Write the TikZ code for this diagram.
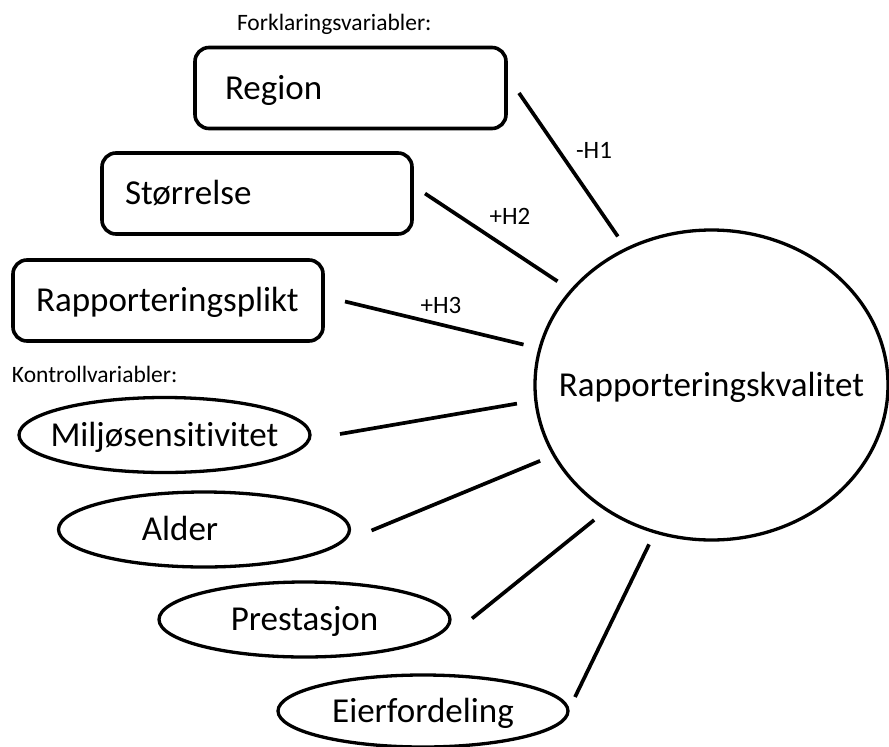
\documentclass[tikz,border=0pt]{standalone}
\usepackage{fontspec}
\setmainfont{Carlito}[Ligatures=NoCommon]
\usetikzlibrary{shapes.geometric,positioning}

\begin{document}
\begin{tikzpicture}[x=1pt,y=-1pt
    , every node/.style={outer sep=0pt}
    , big/.style={font=\fontsize{35}{40}\selectfont,text height=22.5pt,text depth=0pt}
    , expl/.style={big,draw,line width=3.6pt,rounded corners=14pt,minimum width=310pt,minimum height=81pt,text width=264pt,inner xsep=23pt,align=left}
    , ctrl/.style={big,draw,ellipse,line width=3.3pt,minimum width=291pt,minimum height=75pt,inner xsep=-30pt}
    , head/.style={font=\fontsize{23.5}{28}\selectfont,inner sep=0pt}
    , hyp/.style={font=\fontsize{25}{28}\selectfont,inner sep=0pt}
    , link/.style={line width=3.7pt}
]
    \useasboundingbox (0,0) rectangle (889,747);

    % Headings
    \node[head,anchor=base west] (forkl) at (237,30) {Forklaringsvariabler:};
    \node[head,anchor=base west] (kontr) at (12,382) {Kontrollvariabler:};

    % Explanatory variables
    \node[expl,text width=251pt,inner xsep=30pt] (region) at (350.5,88) {Region};
    \node[expl] (storrelse) at (257,193.5) {Størrelse};
    \node[expl] (plikt) at (168,300.5) {Rapporteringsplikt};

    % Reporting quality
    \node[big,draw,ellipse,line width=3.3pt,minimum width=353pt,minimum height=310pt,inner xsep=-40pt] (kval) at (711.5,385) {Rapporteringskvalitet};

    % Control variables
    \node[ctrl] (miljo) at (164.5,435) {Miljøsensitivitet};
    \node[ctrl,label={[big,xshift=-24pt]center:Alder}] (alder) at (204,529.5) {};
    \node[ctrl] (prest) at (304.5,619.5) {Prestasjon};
    \node[ctrl,minimum width=290pt,minimum height=72pt] (eier) at (423,711) {Eierfordeling};

    % Hypotheses
    \draw[link,shorten >=15.4pt] ([shift={(13pt,-5pt)}]region.east) -- (kval.122);
    \draw[link,shorten >=16.8pt] ([shift={(13pt,0pt)}]storrelse.east) -- (kval.146);
    \draw[link,shorten >=16.9pt] ([shift={(22pt,-1pt)}]plikt.east) -- (kval.168);
    \node[hyp] (h1) at (594,150) {-H1};
    \node[hyp] (h2) at (510,216) {+H2};
    \node[hyp] (h3) at (441,305) {+H3};

    % Controls
    \draw[link,shorten >=19.2pt] ([shift={(30pt,1pt)}]miljo.east) -- (kval.185);
    \draw[link,shorten >=15.1pt] ([shift={(22pt,-1pt)}]alder.east) -- (kval.204);
    \draw[link,shorten >=16.3pt] ([shift={(22pt,1pt)}]prest.east) -- (kval.230);
    \draw[link,shorten >=13.9pt] ([shift={(7pt,14pt)}]eier.east) -- (kval.249);
\end{tikzpicture}
\end{document}
